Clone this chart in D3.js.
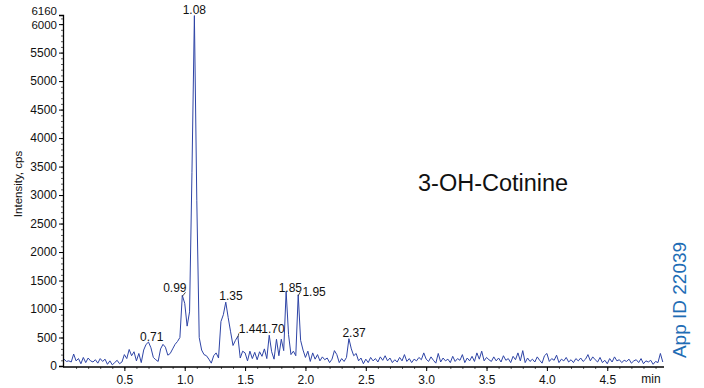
<!DOCTYPE html>
<html>
<head>
<meta charset="utf-8">
<script src="https://cdn.jsdelivr.net/npm/d3@7"></script>
<style>
  html, body { margin: 0; padding: 0; background: #fff; }
  svg { display: block; font-family: "Liberation Sans", Arial, Helvetica, sans-serif; }
</style>
</head>
<body>
<svg id="chart" width="704" height="388"></svg>
<script>
// ---------------- data ----------------
const rtStart = 0.0;          // first acquisition time (min)
const rtStep = 0.02;          // acquisition interval (min)
const intensity = [
  120, 80, 90, 70, 210,      // 0.00
  90, 130, 40, 150, 60,      // 0.10
  140, 90, 70, 110, 50,      // 0.20
  130, 80, 120, 30, 90,      // 0.30
  20, 60, 100, 40, 70,       // 0.40
  200, 130, 290, 180, 250,   // 0.50
  90, 220, 60, 280, 380,     // 0.60
  420, 320, 150, 110, 80,    // 0.70
  300, 380, 330, 190, 220,   // 0.80
  300, 380, 430, 500, 1240,  // 0.90
  1100, 700, 950, 3400, 6150,// 1.00
  2900, 500, 280, 200, 180,  // 1.10
  120, 50, 180, 230, 140,    // 1.20
  780, 900, 1120, 850, 600,  // 1.30
  360, 450, 520, 140, 260,   // 1.40
  230, 90, 260, 130, 240,    // 1.50
  110, 250, 170, 300, 130,   // 1.60
  540, 250, 120, 470, 180,   // 1.70
  470, 270, 1310, 550, 200,  // 1.80
  260, 180, 1250, 450, 280,  // 1.90
  150, 260, 80, 230, 120,    // 2.00
  200, 90, 160, 110, 140,    // 2.10
  60, 120, 270, 200, 60,     // 2.20
  130, 80, 150, 480, 300,    // 2.30
  180, 220, 90, 140, 40,     // 2.40
  120, 60, 150, 90, 130,     // 2.50
  70, 160, 100, 180, 90,     // 2.60
  140, 60, 110, 70, 150,     // 2.70
  90, 200, 80, 130, 60,      // 2.80
  120, 90, 150, 110, 230,    // 2.90
  120, 80, 160, 100, 50,     // 3.00
  220, 70, 140, 90, 120,     // 3.10
  60, 170, 80, 130, 100,     // 3.20
  200, 60, 140, 90, 170,     // 3.30
  80, 230, 120, 260, 90,     // 3.40
  150, 110, 80, 160, 90,     // 3.50
  140, 70, 180, 100, 130,    // 3.60
  60, 170, 110, 230, 90,     // 3.70
  270, 60, 140, 80, 120,     // 3.80
  70, 160, 100, 50, 180,     // 3.90
  220, 80, 130, 100, 190,    // 4.00
  60, 120, 90, 150, 70,      // 4.10
  110, 60, 130, 90, 140,     // 4.20
  80, 120, 200, 90, 160,     // 4.30
  110, 70, 150, 60, 100,     // 4.40
  40, 130, 70, 160, 90,      // 4.50
  110, 60, 100, 80, 120,     // 4.60
  50, 90, 110, 60, 130,      // 4.70
  40, 90, 70, 100, 30,       // 4.80
  80, 60, 220, 70            // 4.90
];
const peakLabels = ["0.71", "0.99", "1.08", "1.35", "1.44", "1.70", "1.85", "1.95", "2.37"];
const yTickValues = [0, 500, 1000, 1500, 2000, 2500, 3000, 3500, 4000, 4500, 5000, 5500, 6000, 6160];
const xTickValues = [0.5, 1.0, 1.5, 2.0, 2.5, 3.0, 3.5, 4.0, 4.5];
const yMax = 6160;
const xMax = 4.97;
const compoundName = "3-OH-Cotinine";
const appId = "App ID 22039";
const yAxisTitle = "Intensity, cps";
const xUnit = "min";

// ---------------- label layout (style) ----------------
const labelStyle = {
  "0.71": { anchor: "middle", dx: 2,  dy: -1, hook: false },
  "0.99": { anchor: "end",    dx: 3,  dy: -3, hook: true },
  "1.08": { anchor: "middle", dx: 0,  dy: -2, hook: false },
  "1.35": { anchor: "middle", dx: 4,  dy: -2, hook: false },
  "1.44": { anchor: "start",  dx: 1,  dy: -3, hook: true },
  "1.70": { anchor: "start",  dx: -8, dy: -2, hook: false },
  "1.85": { anchor: "middle", dx: 3,  dy: 1,  hook: false },
  "1.95": { anchor: "start",  dx: 3,  dy: 1,  hook: true },
  "2.37": { anchor: "middle", dx: 4,  dy: -2, hook: false }
};

// ---------------- drawing ----------------
const data = intensity.map((v, i) => ({ t: rtStart + i * rtStep, v }));

const svg = d3.select("#chart");
const mLeft = 64, mRight = 664, mTop = 15, mBottom = 366;

const x = d3.scaleLinear().domain([0, xMax]).range([mLeft, mRight]);
const y = d3.scaleLinear().domain([0, yMax]).range([mBottom, mTop]);

const lineColor = "#2e44a6";
const axisColor = "#000";

// trace
svg.append("path")
  .datum(data)
  .attr("fill", "none")
  .attr("stroke", lineColor)
  .attr("stroke-width", 1)
  .attr("stroke-linejoin", "round")
  .attr("d", d3.line().x(d => x(d.t)).y(d => y(d.v)));

// y axis
const yMinor = d3.range(0, yMax + 1, 100);
const yAxisG = svg.append("g").attr("transform", `translate(${mLeft - 1},0)`);
yAxisG.append("g")
  .call(d3.axisLeft(y).tickValues(yMinor).tickSize(2).tickFormat(""))
  .call(g => g.select(".domain").remove())
  .call(g => g.selectAll("line").attr("stroke", "#333").attr("stroke-width", 0.8));
yAxisG.append("g")
  .call(d3.axisLeft(y).tickValues(yTickValues).tickSize(4).tickPadding(2).tickFormat(d3.format("d")))
  .call(g => g.select(".domain").attr("stroke", axisColor).attr("stroke-width", 1.3))
  .call(g => g.selectAll("text").attr("font-size", 12).attr("fill", "#111")
      .attr("font-family", "Liberation Sans, Arial, sans-serif"))
  .call(g => g.selectAll(".tick").filter(d => d === yMax).select("text")
      .attr("font-size", 11.5).attr("dy", "-0.05em"))
  .call(g => g.selectAll(".tick").filter(d => d === 6000).select("text")
      .attr("font-size", 11.5).attr("dy", "0.42em"));

// x axis
const xMinor = d3.range(0.1, xMax, 0.1);
const xAxisG = svg.append("g").attr("transform", `translate(0,${mBottom + 1})`);
xAxisG.append("g")
  .call(d3.axisBottom(x).tickValues(xMinor).tickSize(2).tickFormat(""))
  .call(g => g.select(".domain").remove())
  .call(g => g.selectAll("line").attr("stroke", "#333").attr("stroke-width", 0.8));
xAxisG.append("g")
  .call(d3.axisBottom(x).tickValues(xTickValues).tickSize(4).tickPadding(4).tickFormat(d3.format(".1f")))
  .call(g => g.select(".domain").attr("stroke", axisColor).attr("stroke-width", 1.3)
      .attr("d", `M${mLeft - 1},0H${mRight}`))
  .call(g => g.selectAll("text").attr("font-size", 12).attr("fill", "#111")
      .attr("font-family", "Liberation Sans, Arial, sans-serif"));

svg.append("text")
  .attr("x", 651).attr("y", 383)
  .attr("text-anchor", "middle")
  .attr("font-size", 12).attr("fill", "#111")
  .text(xUnit);

// y axis title
svg.append("text")
  .attr("transform", "translate(22,184) rotate(-90)")
  .attr("text-anchor", "middle")
  .attr("font-size", 11.5).attr("fill", "#111")
  .text(yAxisTitle);

// peak labels
peakLabels.forEach(lbl => {
  const rt = +lbl;
  const near = data.filter(d => Math.abs(d.t - rt) <= 0.021);
  const pk = near.reduce((a, b) => (b.v > a.v ? b : a));
  const st = labelStyle[lbl];
  const px = x(rt), py = y(pk.v);
  svg.append("text")
    .attr("x", px + st.dx).attr("y", py + st.dy)
    .attr("text-anchor", st.anchor)
    .attr("font-size", 12).attr("fill", "#111")
    .text(lbl);
  if (st.hook) {
    svg.append("path")
      .attr("d", `M${x(pk.t)},${py + 1}L${px + (st.anchor === "end" ? 2 : 1)},${py - 3}`)
      .attr("stroke", "#222").attr("stroke-width", 0.8).attr("fill", "none");
  }
});

// compound name
svg.append("text")
  .attr("x", 418).attr("y", 191)
  .attr("font-size", 23.5).attr("fill", "#111")
  .text(compoundName);

// app id
svg.append("text")
  .attr("transform", "translate(686,300) rotate(-90)")
  .attr("text-anchor", "middle")
  .attr("font-size", 19).attr("fill", "#1f6db5")
  .text(appId);
</script>
</body>
</html>
